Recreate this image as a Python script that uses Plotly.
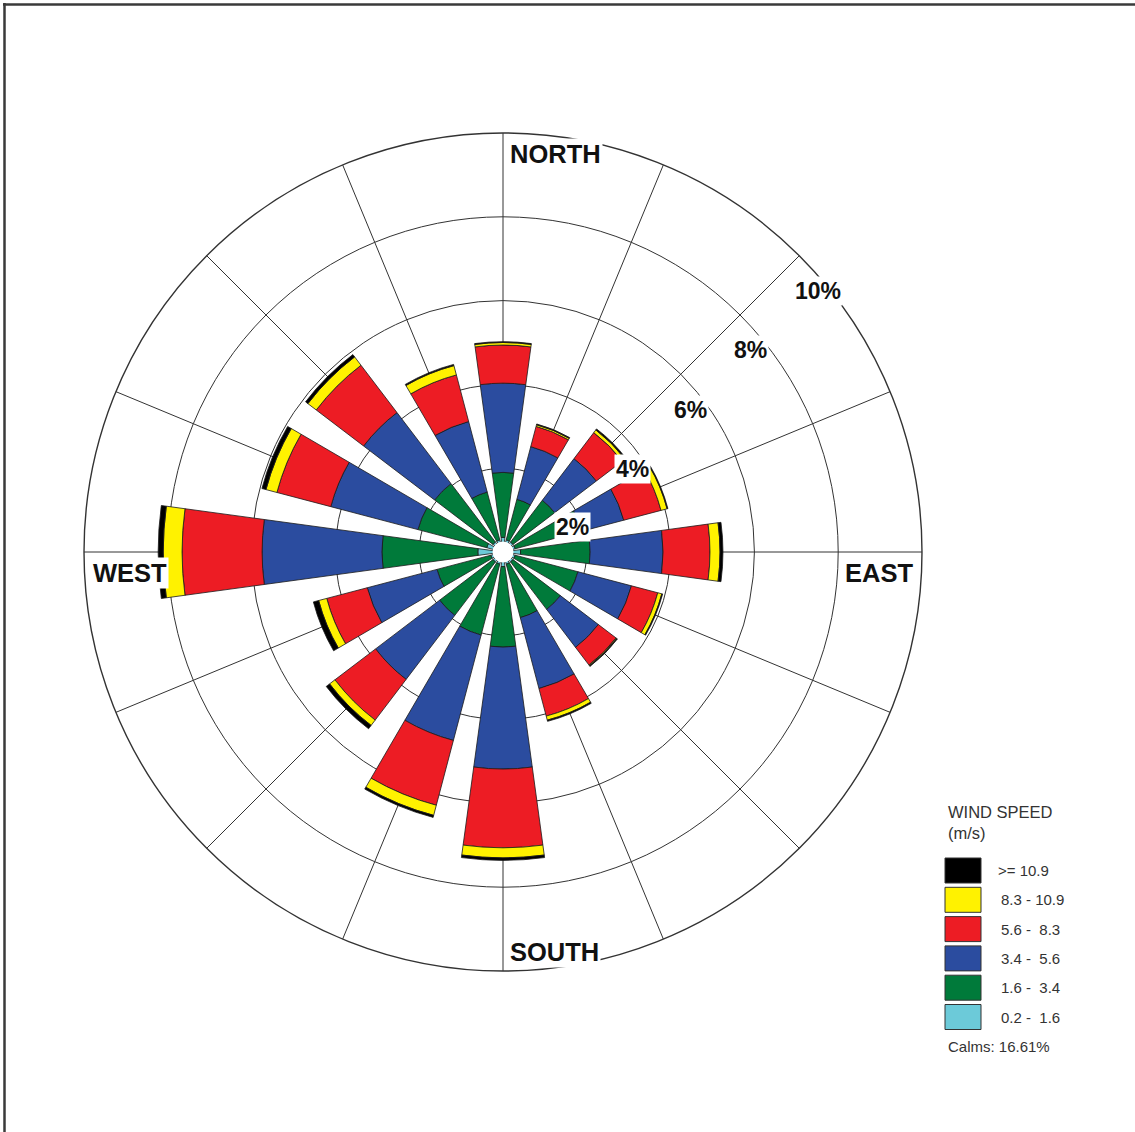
import plotly.graph_objects as go

# ---------------- data ----------------
directions = ["N", "NNE", "NE", "ENE", "E", "ESE", "SE", "SSE",
              "S", "SSW", "SW", "WSW", "W", "WNW", "NW", "NNW"]
bearing = [i * 22.5 for i in range(16)]

# frequency (%) of each speed class per direction
spd_02_16 = [0.35, 0.30, 0.30, 0.30, 0.42, 0.30, 0.30, 0.30, 0.35, 0.30, 0.30, 0.30, 0.60, 0.40, 0.30, 0.30]
spd_16_34 = [1.55, 1.00, 1.25, 1.65, 1.66, 1.55, 1.42, 1.32, 1.92, 1.75, 1.60, 1.33, 2.29, 1.70, 1.75, 1.18]
spd_34_56 = [2.13, 1.30, 1.25, 1.03, 1.74, 1.32, 1.14, 1.75, 2.91, 2.60, 1.92, 1.72, 2.86, 2.15, 2.13, 1.74]
spd_56_83 = [0.91, 0.50, 0.78, 0.92, 1.12, 0.65, 0.53, 0.68, 1.88, 1.60, 1.22, 1.00, 1.91, 1.33, 1.42, 1.15]
spd_83_109 = [0.06, 0.04, 0.08, 0.15, 0.24, 0.10, 0.02, 0.10, 0.24, 0.25, 0.16, 0.20, 0.45, 0.27, 0.25, 0.23]
spd_109 = [0.02, 0.02, 0.03, 0.02, 0.07, 0.02, 0.02, 0.03, 0.06, 0.05, 0.10, 0.13, 0.12, 0.10, 0.07, 0.03]

series = [spd_02_16, spd_16_34, spd_34_56, spd_56_83, spd_83_109, spd_109]
series_names = ["0.2 - \u00a01.6", "1.6 - \u00a03.4", "3.4 - \u00a05.6", "5.6 - \u00a08.3", "8.3 - 10.9", ">= 10.9"]
series_colors = ["#6CCAD9", "#007A3A", "#2B4C9F", "#ED1C24", "#FFF200", "#000000"]

ring_values = [2, 4, 6, 8, 10]
ring_labels = ["2%", "4%", "6%", "8%", "10%"]
calms_text = "Calms: 16.61%"

# ---------------- layout geometry (pixels) ----------------
W, H = 1135, 1132
CX, CY, R = 503, 552, 419


def px(x):
    return x / W


def py(y):
    return 1 - y / H


fig = go.Figure()
for vals, name, col in zip(series, series_names, series_colors):
    fig.add_trace(go.Barpolar(
        r=vals, theta=bearing, width=15.5, name=name,
        marker=dict(color=col, line=dict(color="#1a1a1a", width=0.8)),
        hoverinfo="skip",
    ))

# white calm circle at the centre
fig.add_trace(go.Scatterpolar(
    r=[0], theta=[0], mode="markers",
    marker=dict(size=21, color="white", line=dict(width=0)),
    hoverinfo="skip",
))

grid_col = "#333333"
fig.update_layout(
    width=W, height=H,
    margin=dict(l=0, r=0, t=0, b=0),
    paper_bgcolor="white",
    showlegend=False,
    polar=dict(
        domain=dict(x=[px(CX - R), px(CX + R)], y=[py(CY + R), py(CY - R)]),
        bgcolor="white",
        barmode="stack",
        angularaxis=dict(
            rotation=90, direction="clockwise",
            tickmode="linear", tick0=0, dtick=22.5,
            showticklabels=False, ticks="",
            showline=True, linecolor=grid_col, linewidth=1.4,
            showgrid=True, gridcolor=grid_col, gridwidth=1.3,
        ),
        radialaxis=dict(
            range=[0, 10], tickvals=ring_values[:-1],
            showticklabels=False, ticks="", showline=False,
            showgrid=True, gridcolor=grid_col, gridwidth=1.3,
        ),
    ),
)

font_b = dict(family="Liberation Sans, Arial, sans-serif", size=25.5, color="#111111", weight="bold")
ann = []
# compass labels
for txt, x, y, xa in [("NORTH", 508, 154, "left"), ("SOUTH", 508, 952, "left"),
                      ("WEST", 91, 573, "left"), ("EAST", 843, 573, "left")]:
    ann.append(dict(text=txt, x=px(x), y=py(y), xref="paper", yref="paper",
                    xanchor=xa, yanchor="middle", showarrow=False,
                    font=font_b, bgcolor="white", borderpad=1))

# ring percentage labels
ring_label_px = [(572, 527), (632, 469), (690, 410), (750, 350), (818, 291)]
for lab, (x, y) in zip(ring_labels, ring_label_px):
    ann.append(dict(text=lab, x=px(x), y=py(y), xref="paper", yref="paper",
                    xanchor="center", yanchor="middle", showarrow=False,
                    font=dict(family="Liberation Sans, Arial, sans-serif", size=23,
                              color="#111111", weight="bold"),
                    bgcolor="white", borderpad=1))

# legend (custom)
leg_font = dict(family="Liberation Sans, Arial, sans-serif", size=15, color="#333333")
ann.append(dict(text="WIND SPEED", x=px(946), y=py(812), xref="paper", yref="paper",
                xanchor="left", yanchor="middle", showarrow=False,
                font=dict(family="Liberation Sans, Arial, sans-serif", size=16.5, color="#333333")))
ann.append(dict(text="(m/s)", x=px(946), y=py(833), xref="paper", yref="paper",
                xanchor="left", yanchor="middle", showarrow=False,
                font=dict(family="Liberation Sans, Arial, sans-serif", size=16.5, color="#333333")))

shapes = []
top0, step, bh = 858, 29.3, 25
for k, (name, col) in enumerate(zip(reversed(series_names), reversed(series_colors))):
    y0 = top0 + k * step
    shapes.append(dict(type="rect", xref="paper", yref="paper",
                       x0=px(945), x1=px(981), y0=py(y0 + bh), y1=py(y0),
                       fillcolor=col, line=dict(color="#333333", width=1)))
    ann.append(dict(text=name, x=px(996 if k == 0 else 999), y=py(y0 + bh / 2),
                    xref="paper", yref="paper", xanchor="left", yanchor="middle",
                    showarrow=False, font=leg_font))
ann.append(dict(text=calms_text, x=px(946), y=py(1046), xref="paper", yref="paper",
                xanchor="left", yanchor="middle", showarrow=False, font=leg_font))

# page frame (top and left border)
shapes.append(dict(type="line", xref="paper", yref="paper",
                   x0=px(3), x1=1, y0=py(4.5), y1=py(4.5),
                   line=dict(color="#3a3a3a", width=2.5)))
shapes.append(dict(type="line", xref="paper", yref="paper",
                   x0=px(4.5), x1=px(4.5), y0=0, y1=py(3),
                   line=dict(color="#3a3a3a", width=2.5)))

fig.update_layout(annotations=ann, shapes=shapes)
fig.write_html("out.html")
